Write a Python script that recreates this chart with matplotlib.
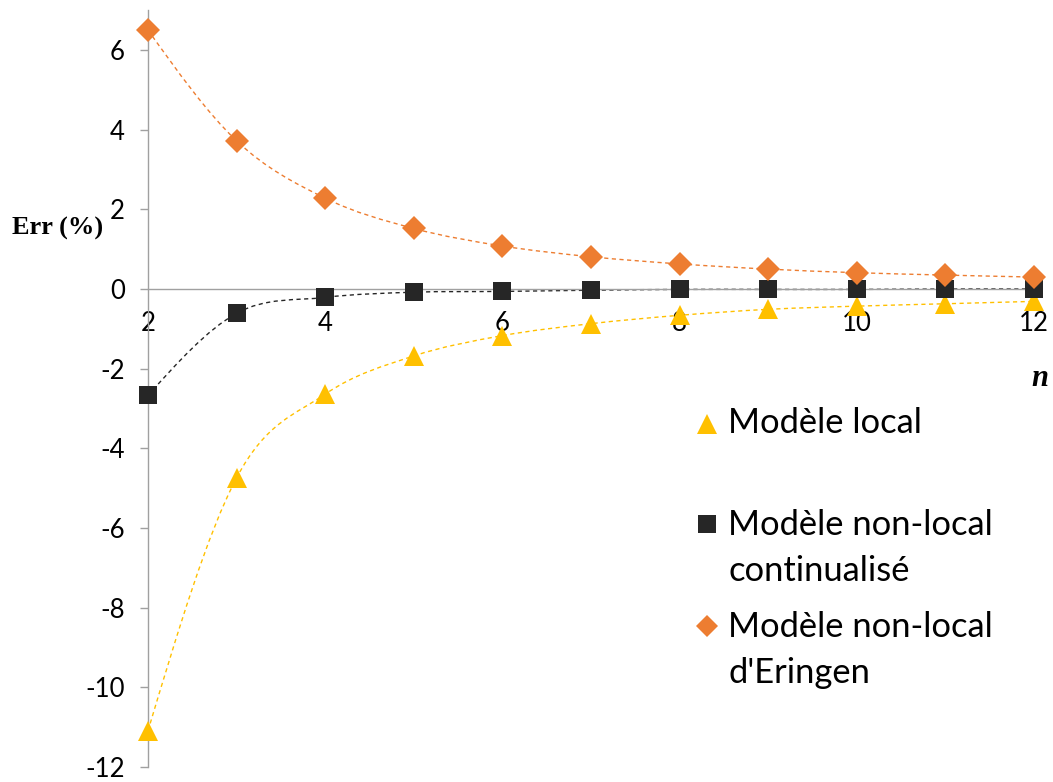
import numpy as np
import matplotlib
matplotlib.use("Agg")
import matplotlib.pyplot as plt
from matplotlib.path import Path
from matplotlib.patches import PathPatch
from matplotlib.lines import Line2D

plt.rcParams["font.family"] = ["Lato", "DejaVu Sans"]
plt.rcParams["axes.unicode_minus"] = False

# values
n_vals = [2, 3, 4, 5, 6, 7, 8, 9, 10, 11, 12]
err_local = [-11.09, -4.74, -2.64, -1.68, -1.17, -0.87, -0.66, -0.51, -0.43, -0.37, -0.31]
err_continu = [-2.67, -0.61, -0.21, -0.08, -0.06, -0.03, -0.01, -0.01, -0.01, 0.0, 0.0]
err_eringen = [6.50, 3.72, 2.28, 1.52, 1.08, 0.81, 0.63, 0.50, 0.41, 0.35, 0.30]

labels = ["Modèle local", "Modèle non-local\ncontinualisé", "Modèle non-local\nd'Eringen"]
y_ticks = [-12, -10, -8, -6, -4, -2, 0, 2, 4, 6]
x_ticks = [2, 4, 6, 8, 10, 12]

C_LOCAL = "#FFC000"
C_CONT = "#262626"
C_ERIN = "#ED7D31"
C_AXIS = "#A0A0A0"


def smooth_path(x, y):
    # bezier spline through the points, close to Excel's "smoothed line"
    pts = np.column_stack([x, y]).astype(float)
    k = len(pts)
    ctrl = []
    for i in range(k - 1):
        p0 = pts[max(i - 1, 0)]
        p1 = pts[i]
        p2 = pts[i + 1]
        p3 = pts[min(i + 2, k - 1)]
        ctrl.append([p1 + (p2 - p0) / 6.0, p2 - (p3 - p1) / 6.0])
    # relaxed ends
    ctrl[0][0] = (pts[0] + ctrl[0][1]) / 2.0
    ctrl[-1][1] = (pts[-1] + ctrl[-1][0]) / 2.0
    verts = [pts[0]]
    codes = [Path.MOVETO]
    for i in range(k - 1):
        verts += [ctrl[i][0], ctrl[i][1], pts[i + 1]]
        codes += [Path.CURVE4] * 3
    return Path(verts, codes)


fig = plt.figure(figsize=(10.53, 7.82), dpi=100)
ax = fig.add_axes([148 / 1053, 1 - 767 / 782, 886 / 1053, (767 - 10.2) / 782])

series = [
    (err_local, C_LOCAL, "^", 15),
    (err_continu, C_CONT, "s", 13),
    (err_eringen, C_ERIN, "D", 12.5),
]
for i, (vals, col, mk, ms) in enumerate(series):
    ax.add_patch(PathPatch(smooth_path(n_vals, vals), fill=False, edgecolor=col,
                           lw=1.0, linestyle=(0, (3, 2.5)), zorder=2 + i * 0.1))
    ax.plot(n_vals, vals, linestyle="none", marker=mk, ms=ms, color=col,
            markeredgewidth=0, zorder=3 + i * 0.1, clip_on=False)

ax.set_xlim(2, 12)
ax.set_ylim(-12, 7)
ax.set_axisbelow(True)

for s in ["top", "right"]:
    ax.spines[s].set_visible(False)
ax.spines["bottom"].set_position(("data", 0))
for s in ["left", "bottom"]:
    ax.spines[s].set_color(C_AXIS)
    ax.spines[s].set_linewidth(1.0)

ax.set_yticks(y_ticks)
ax.set_xticks(x_ticks)
ax.tick_params(axis="y", direction="out", length=5.8, width=1.0, color=C_AXIS,
               pad=11, labelsize=18.5, labelcolor="black")
ax.tick_params(axis="x", length=0, pad=16, labelsize=18.5, labelcolor="black")

fig.text(12 / 1053, 1 - 228 / 782, "Err (%)", family="Liberation Serif", weight="bold",
         fontsize=19, ha="left", va="center")
fig.text(1040 / 1053, 1 - 378 / 782, "n", family="Liberation Serif", weight="bold",
         style="italic", fontsize=22, ha="center", va="center")

# legend drawn by hand to follow the reference spacing
leg_marks = [("^", C_LOCAL, 14, 424), ("s", C_CONT, 12.5, 524), ("D", C_ERIN, 11.5, 626)]
leg_baselines = [[433], [535, 581], [637, 683]]
for (mk, col, ms, ypx), lab, bls in zip(leg_marks, labels, leg_baselines):
    fig.add_artist(Line2D([707 / 1053], [1 - ypx / 782], marker=mk, color=col, ms=ms,
                          markeredgewidth=0, linestyle="none", transform=fig.transFigure))
    for line, bl in zip(lab.split("\n"), bls):
        fig.text(728 / 1053, 1 - bl / 782, line, fontsize=24.8, ha="left", va="baseline")

fig.savefig("out.png", dpi=100)
